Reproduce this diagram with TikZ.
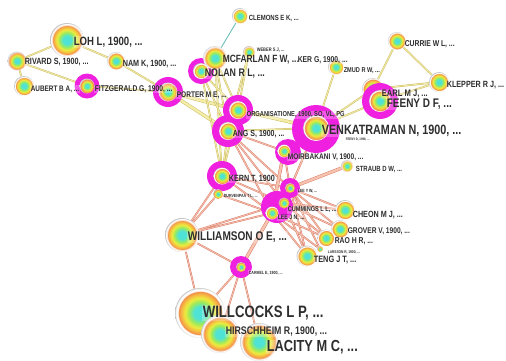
\documentclass[tikz,border=0pt]{standalone}
\usepackage{fontspec}
\usepackage{tikz}
\usetikzlibrary{backgrounds}
\newfontfamily\labfont[FakeStretch=0.8]{Liberation Sans}
\definecolor{halo}{HTML}{F020E0}
\definecolor{ccyan}{HTML}{4FE3D6}
\definecolor{cgreen}{HTML}{9BEA5C}
\definecolor{cyellow}{HTML}{EDEB3E}
\definecolor{corange}{HTML}{F6B443}
\definecolor{cred}{HTML}{F08C4C}
\definecolor{labgray}{HTML}{2E2E2E}
\definecolor{yeldark}{HTML}{CDBE6A}
\definecolor{yellight}{HTML}{F3EDA6}
\definecolor{reddark}{HTML}{D9806E}
\definecolor{redlight}{HTML}{F7C2AE}
\definecolor{tealline}{HTML}{6CC0B8}
\pgfdeclareradialshading{citeball}{\pgfpoint{0bp}{0bp}}{color(0bp)=(ccyan); color(6bp)=(ccyan); color(11bp)=(cgreen); color(15bp)=(cyellow); color(19bp)=(corange); color(21.5bp)=(cred); color(22.3bp)=(white); color(24bp)=(white); color(25bp)=(gray!45); color(50bp)=(gray!45)}
\tikzset{
    core/.style={circle,inner sep=0pt,minimum size=#1,shading=citeball},
    burst/.style={circle,inner sep=0pt,minimum size=#1,fill=halo},
    lab/.style={font={\labfont\bfseries\fontsize{#1}{#1}\selectfont},anchor=west,
      inner sep=0.6pt,text=labgray,fill=white,fill opacity=0.25,text opacity=1},
    yline/.style={draw=yeldark,double=yellight,double distance=0.8pt,line width=0.5pt},
    rline/.style={draw=reddark,double=redlight,double distance=0.8pt,line width=0.5pt},
    fat/.style={double distance=2.4pt}
}
\begin{document}
\begin{tikzpicture}[x=1pt,y=-1pt]
  \useasboundingbox (0,0) rectangle (506,360);
  % cores drawn under the bursts
  \node[core=22] (earl) at (373,89) {};
  % citation bursts
  \node[burst=25] (fitz-b) at (87,86) {};
  \node[burst=30] (porter-b) at (168,92) {};
  \node[burst=26] (nolan-b) at (201,71) {};
  \node[burst=30] (org-b) at (238,110) {};
  \node[burst=32] (ang-b) at (228,131) {};
  \node[burst=48] (venk-b) at (316,129) {};
  \node[burst=36] (feeny-b) at (380,101) {};
  \node[burst=26] (mirb-b) at (288,152) {};
  \node[burst=30] (kern-b) at (222,176) {};
  \node[burst=20] (wn-b) at (290,188) {};
  \node[burst=32] (cum-b) at (277,207) {};
  \node[burst=22] (camel-b) at (241,267) {};
  % cited references
  \node[core=34] (loh) at (67,40) {};
  \node[core=19] (rivard) at (17,61) {};
  \node[core=18] (nam) at (116,61) {};
  \node[core=20] (aubert) at (24,86) {};
  \node[core=15] (fitz) at (87,86) {};
  \node[core=19] (porter) at (168,92) {};
  \node[core=16] (clemons) at (240,16) {};
  \node[core=24] (mcfarlan) at (215,58) {};
  \node[core=16] (nolan) at (201,71) {};
  \node[core=12] (weber) at (249,52) {};
  \node[core=16] (zmud) at (336,67) {};
  \node[core=18] (currie) at (397,41) {};
  \node[core=20] (klepper) at (439,82) {};
  \node[core=22] (feeny) at (380,101) {};
  \node[core=18] (org) at (238,110) {};
  \node[core=26] (venk) at (316,128) {};
  \node[core=18] (ang) at (228,131) {};
  \node[core=13] (mirb) at (284,151) {};
  \node[core=12] (straub) at (347,166) {};
  \node[core=17] (kern) at (222,176) {};
  \node[core=10] (wn) at (290,188) {};
  \node[core=10] (durv) at (218,194) {};
  \node[core=11] (cum) at (284,203) {};
  \node[core=13] (lee) at (272,213) {};
  \node[core=20] (cheon) at (345,210) {};
  \node[core=18] (grover) at (340,229) {};
  \node[core=17] (rao) at (326,238) {};
  \node[core=6] (lars) at (320,249) {};
  \node[core=21] (teng) at (307,256) {};
  \node[core=34] (willi) at (182,235) {};
  \node[core=10] (camel) at (241,267) {};
  \node[core=50] (willc) at (200,313) {};
  \node[core=38] (hirsch) at (220,334) {};
  \node[core=38] (lacity) at (259,342) {};
  % co-citation links
  \begin{scope}[on background layer]
    \draw[yline] (loh)--(rivard) (loh)--(nam) (rivard)--(aubert) (rivard)--(fitz)
      (nam)--(porter) (fitz)--(porter);
    \draw[yline,fat] (porter)--(org) (porter)--(ang) (org)--(venk);
    \draw[tealline,line width=0.9pt] (clemons)--(mcfarlan);
    \draw[yline] (mcfarlan)--(org) (mcfarlan)--(ang) (mcfarlan)--(kern)
      (nolan)--(org) (nolan)--(ang) (nolan)--(kern) (weber)--(ang) (weber)--(org)
      (org)--(ang) (ang)--(venk) (ang)--(kern) (org)--(kern);
    \draw[yline] (zmud)--(venk) (feeny)--(venk) (earl)--(venk) (currie)--(earl)
      (currie)--(klepper) (klepper)--(earl) (klepper)--(feeny);
    \draw[rline] (ang)--(mirb) (ang)--(cum) (ang)--(wn) (ang)--(lee)
      (mirb)--(wn) (mirb)--(venk) (venk)--(wn) (venk)--(cum)
      (kern)--(cum) (kern)--(lee) (kern)--(durv) (kern)--(willi) (kern)--(wn)
      (durv)--(lee) (durv)--(willi);
    \draw[rline,fat] (mirb)--(lee) (wn)--(straub) (lee)--(camel);
    \draw[rline] (wn)--(cheon) (wn)--(grover) (wn)--(rao) (wn)--(teng) (wn)--(lars)
      (cum)--(cheon) (cum)--(grover) (cum)--(rao) (cum)--(teng)
      (lee)--(teng) (lee)--(rao) (lee)--(lars);
    \draw[rline] (willi)--(cum) (willi)--(lee) (willi)--(camel)
      (camel)--(willc) (camel)--(hirsch) (camel)--(lacity) (willi)--(willc);
  \end{scope}
  % labels
  \node[lab=12] (loh-t) at (73,42) {LOH L, 1900, ...};
  \node[lab=9] (rivard-t) at (24,62) {RIVARD S, 1900, ...};
  \node[lab=9] (nam-t) at (122,64) {NAM K, 1900, ...};
  \node[lab=8] (aubert-t) at (30,89) {AUBERT B A, ...};
  \node[lab=8.4] (fitz-t) at (94,89) {FITZGERALD G, 1900, ...};
  \node[lab=8.2] (porter-t) at (176,95) {PORTER M E, ...};
  \node[lab=7.5] (clemons-t) at (248,18) {CLEMONS E K, ...};
  \node[lab=10.5] (mcfarlan-t) at (222,60) {MCFARLAN F W, ...};
  \node[lab=11] (nolan-t) at (204,74) {NOLAN R L, ...};
  \node[lab=5] (weber-t) at (256,50) {WEBER S J, ...};
  \node[lab=8.5] (ker-t) at (297,60) {KER G, 1900, ...};
  \node[lab=7] (zmud-t) at (343,71) {ZMUD R W, ...};
  \node[lab=8.5] (currie-t) at (404,44) {CURRIE W L, ...};
  \node[lab=9] (klepper-t) at (446,85) {KLEPPER R J, ...};
  \node[lab=9.5] (earl-t) at (381,94) {EARL M J, ...};
  \node[lab=12.5] (feeny-t) at (386,104) {FEENY D F, ...};
  \node[lab=7.2] (org-t) at (246,115) {ORGANISATIONE, 1900, SO, VL, PG};
  \node[lab=13.5] (venk-t) at (321,131) {VENKATRAMAN N, 1900, ...};
  \node[lab=3.5] (feeny2-t) at (345,140) {FEENY D, 1998, ...};
  \node[lab=8.8] (ang-t) at (232,134) {ANG S, 1900, ...};
  \node[lab=8.2] (mirb-t) at (287,157) {MOIRBAKANI V, 1900, ...};
  \node[lab=7.5] (straub-t) at (355,169) {STRAUB D W, ...};
  \node[lab=9] (kern-t) at (228,179) {KERN T, 1900};
  \node[lab=4.5] (wn-t) at (297,191) {LEE Y W, ...};
  \node[lab=4.5] (durv-t) at (223,196) {DURVENPAA T L, ...};
  \node[lab=7] (cum-t) at (287,210) {CUMMINGS L L, ...};
  \node[lab=6.5] (lee-t) at (277,218) {LEE J N, ...};
  \node[lab=9] (cheon-t) at (352,215) {CHEON M J, ...};
  \node[lab=8.3] (grover-t) at (347,231) {GROVER V, 1900, ...};
  \node[lab=8.5] (rao-t) at (334,241) {RAO H R, ...};
  \node[lab=4] (lars-t) at (327,252) {LARSSON R, 1900, ...};
  \node[lab=9.2] (teng-t) at (313,260) {TENG J T, ...};
  \node[lab=12.6] (willi-t) at (187,237) {WILLIAMSON O E, ...};
  \node[lab=4.5] (camel-t) at (248,273) {CARMEL E, 1900, ...};
  \node[lab=16.5] (willc-t) at (202,313) {WILLCOCKS L P, ...};
  \node[lab=11] (hirsch-t) at (225,332) {HIRSCHHEIM R, 1900, ...};
  \node[lab=16] (lacity-t) at (266,347) {LACITY M C, ...};
\end{tikzpicture}
\end{document}
